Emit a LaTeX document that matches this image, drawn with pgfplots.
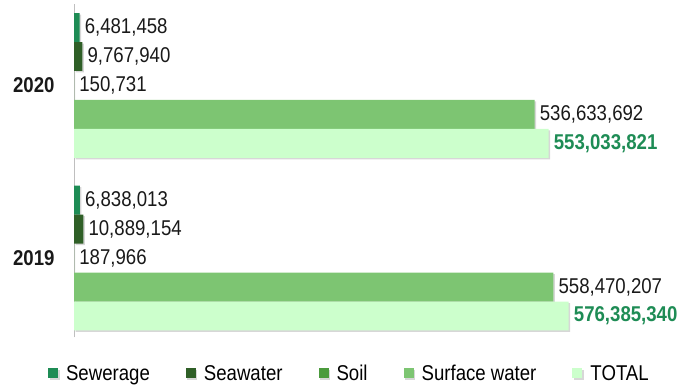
\documentclass[border=0pt]{standalone}
\usepackage{pgfplots}
\pgfplotsset{compat=1.18}
\usepackage{pgfplotstable}
\usepackage{fontspec}
\setmainfont{Liberation Sans}[FakeStretch=0.87]

\definecolor{cSewer}{HTML}{1E8C55}
\definecolor{cSea}{HTML}{2F5F27}
\definecolor{cSoil}{HTML}{4B9B3D}
\definecolor{cSurf}{HTML}{7DC572}
\definecolor{cTotal}{HTML}{CCFFCC}

\newcommand{\lblfont}{\fontsize{21.4}{24}\selectfont}

% y = 0 -> 2019, y = 1 -> 2020
\pgfplotstableread{
y x label
0 6838013 {6,838,013}
1 6481458 {6,481,458}
}\sewerage
\pgfplotstableread{
y x label
0 10889154 {10,889,154}
1 9767940 {9,767,940}
}\seawater
\pgfplotstableread{
y x label
0 187966 {187,966}
1 150731 {150,731}
}\soil
\pgfplotstableread{
y x label
0 558470207 {558,470,207}
1 536633692 {536,633,692}
}\surface
\pgfplotstableread{
y x label
0 576385340 {576,385,340}
1 553033821 {553,033,821}
}\total

\begin{document}
\begin{tikzpicture}
\path[use as bounding box] (0,0) rectangle (678pt,385pt);
\begin{axis}[
  at={(74pt,47.6pt)}, anchor=south west,
  width=604pt, height=333pt, scale only axis,
  xbar, bar width=0.168,
  xmin=0, xmax=7.037e8,
  ymin=-0.46, ymax=1.47,
  axis x line=none,
  axis y line=left,
  axis line style={-, draw=black!25},
  ytick={0,1},
  yticklabels={\textbf{2019},\textbf{2020}},
  yticklabel style={font=\lblfont, text=black!90, xshift=-16pt},
  major tick length=0pt,
  point meta=explicit symbolic,
  nodes near coords,
  every node near coord/.append style={font=\lblfont, text=black!90, anchor=west, inner sep=5pt},
  every axis plot/.append style={draw=none,
    preaction={fill=black!35, opacity=0.45, transform canvas={xshift=1.5pt, yshift=-1.5pt}}},
  legend columns=5,
  legend style={at={(0.456,-0.108)}, anchor=center, draw=none, fill=none,
    font=\lblfont, inner sep=0pt,
    /tikz/every odd column/.append style={column sep=6pt},
    /tikz/every even column/.append style={column sep=34pt}},
  legend image code/.code={\fill[#1] (0pt,-5pt) rectangle (10pt,5pt);},
]
\addplot[fill=cSewer, bar shift=0.336] table[x=x, y=y, meta=label]{\sewerage};
\addlegendentry{Sewerage}
\addplot[fill=cSea, bar shift=0.168] table[x=x, y=y, meta=label]{\seawater};
\addlegendentry{Seawater}
\addplot[fill=cSoil, bar shift=0] table[x=x, y=y, meta=label]{\soil};
\addlegendentry{Soil}
\addplot[fill=cSurf, bar shift=-0.168] table[x=x, y=y, meta=label]{\surface};
\addlegendentry{Surface water}
\addplot[fill=cTotal, bar shift=-0.336,
  every node near coord/.append style={text=cSewer, font=\lblfont\bfseries}]
  table[x=x, y=y, meta=label]{\total};
\addlegendentry{TOTAL}
\end{axis}
\end{tikzpicture}
\end{document}
